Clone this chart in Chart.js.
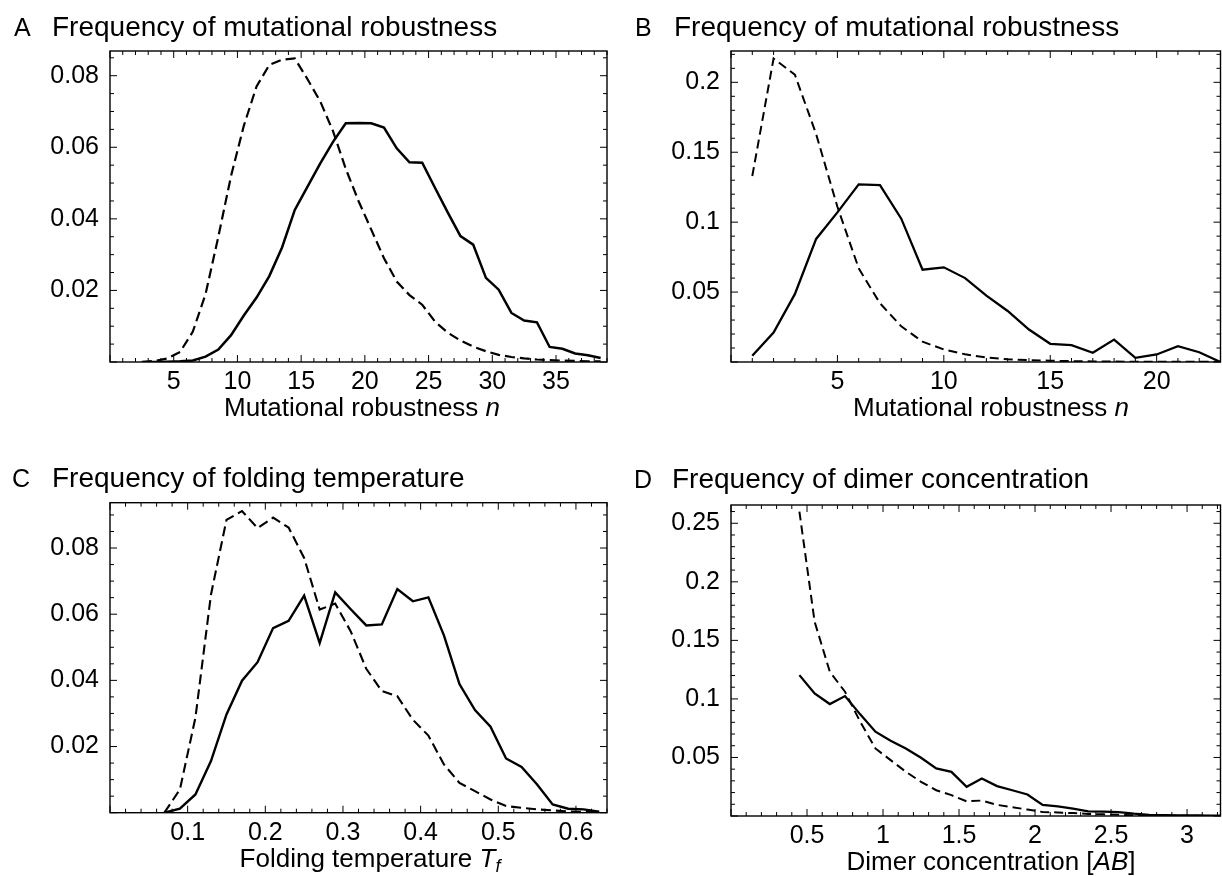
<!DOCTYPE html>
<html>
<head>
<meta charset="utf-8">
<title>Frequency distributions</title>
<script src="https://cdn.jsdelivr.net/npm/chart.js@4.4.1/dist/chart.umd.min.js"></script>
<style>
  body { margin: 0; background: #fff; }
  #page { position: relative; width: 1222px; height: 876px; }
  #page canvas { position: absolute; }
</style>
</head>
<body>
<div id="page">
  <canvas id="chartA" width="611" height="438" style="left:0;top:0"></canvas>
  <canvas id="chartB" width="611" height="438" style="left:611px;top:0"></canvas>
  <canvas id="chartC" width="611" height="438" style="left:0;top:438px"></canvas>
  <canvas id="chartD" width="611" height="438" style="left:611px;top:438px"></canvas>
</div>
<script>
const FONT = '"Liberation Sans", Arial, Helvetica, sans-serif';

// A - mutational robustness
const nA = [2.5, 3.5, 4.5, 5.5, 6.5, 7.5, 8.5, 9.5, 10.5, 11.5, 12.5, 13.5, 14.5, 15.5, 16.5, 17.5, 18.5, 19.5, 20.5, 21.5,
  22.5, 23.5, 24.5, 25.5, 26.5, 27.5, 28.5, 29.5, 30.5, 31.5, 32.5, 33.5, 34.5, 35.5, 36.5, 37.5, 38.5];
const solidA = [0, 0, 0.0001, 0.0002, 0.0004, 0.0015, 0.0035, 0.0075, 0.013, 0.018, 0.024, 0.032, 0.0425, 0.049, 0.0555,
  0.0615, 0.0667, 0.0668, 0.0667, 0.0655, 0.0597, 0.0558, 0.0557, 0.0487, 0.0418, 0.0352, 0.0328, 0.0235, 0.0202, 0.0137,
  0.0116, 0.0111, 0.0042, 0.0037, 0.0024, 0.0019, 0.0011];
const dashedA = [0, 0.0003, 0.001, 0.0028, 0.0085, 0.019, 0.035, 0.052, 0.066, 0.077, 0.083, 0.0845, 0.0848, 0.079, 0.0728,
  0.0645, 0.054, 0.045, 0.037, 0.029, 0.0225, 0.0187, 0.016, 0.0113, 0.0082, 0.006, 0.0043, 0.003, 0.002, 0.0014,
  0.001, 0.0007, 0.0005, 0.0004, 0.0003, 0.0002, 0.0002];
const xTicksA = [5, 10, 15, 20, 25, 30, 35];
const yTicksA = [0.02, 0.04, 0.06, 0.08];

// B - mutational robustness
const nB = [1, 2, 3, 4, 5, 6, 7, 8, 9, 10, 11, 12, 13, 14, 15, 16, 17, 18, 19, 20, 21, 22, 23];
const solidB = [0.0045, 0.021, 0.0485, 0.088, 0.107, 0.127, 0.1265, 0.1025, 0.066, 0.0677, 0.060, 0.0475, 0.0365, 0.0232,
  0.013, 0.012, 0.0066, 0.016, 0.003, 0.0054, 0.0113, 0.007, 0];
const dashedB = [0.133, 0.217, 0.2055, 0.163, 0.111, 0.067, 0.042, 0.0255, 0.0145, 0.009, 0.0055, 0.0032, 0.002, 0.0013,
  0.0009, 0.0006, 0.0004, 0.0003, 0.0002, 0.0002, 0.0001, 0.0001, 0.0001];
const xTicksB = [5, 10, 15, 20];
const yTicksB = [0.05, 0.1, 0.15, 0.2];

// C - folding temperature
const tC = [0.07, 0.09, 0.11, 0.13, 0.15, 0.17, 0.19, 0.21, 0.23, 0.25, 0.27, 0.29, 0.31, 0.33, 0.35, 0.37, 0.39, 0.41,
  0.43, 0.45, 0.47, 0.49, 0.51, 0.53, 0.55, 0.57, 0.59, 0.61, 0.63];
const solidC = [0, 0.0012, 0.0055, 0.0156, 0.0297, 0.0399, 0.0455, 0.0558, 0.058, 0.0656, 0.0513, 0.0666, 0.0615, 0.0566,
  0.0569, 0.0676, 0.0639, 0.0651, 0.0536, 0.0389, 0.031, 0.026, 0.0164, 0.0138, 0.0085, 0.0025, 0.0012, 0.001, 0.0003];
const dashedC = [0, 0.007, 0.0287, 0.0659, 0.0885, 0.0912, 0.086, 0.0892, 0.0862, 0.077, 0.0614, 0.0632, 0.0548, 0.0435,
  0.0368, 0.0352, 0.0281, 0.0233, 0.0146, 0.009, 0.0065, 0.004, 0.002, 0.0015, 0.001, 0.0007, 0.0004, 0.0002, 0.0001];
const xTicksC = [0.1, 0.2, 0.3, 0.4, 0.5, 0.6];
const yTicksC = [0.02, 0.04, 0.06, 0.08];

// D - dimer concentration
const abD = [0.45, 0.55, 0.65, 0.75, 0.85, 0.95, 1.05, 1.15, 1.25, 1.35, 1.45, 1.55, 1.65, 1.75, 1.85, 1.95, 2.05, 2.15,
  2.25, 2.35, 2.45, 2.55, 2.65, 2.75, 2.85, 2.95, 3.05, 3.15, 3.25];
const solidD = [0.1203, 0.1047, 0.0956, 0.1024, 0.0868, 0.072, 0.0643, 0.0577, 0.0497, 0.0406, 0.0377, 0.025, 0.032, 0.0255,
  0.022, 0.0184, 0.0094, 0.0083, 0.0063, 0.004, 0.0038, 0.0033, 0.002, 0.001, 0.0008, 0.0006, 0.0005, 0.0004, 0.0003];
const dashedD = [0.26, 0.166, 0.1232, 0.1061, 0.0805, 0.0577, 0.0477, 0.0378, 0.0292, 0.022, 0.0178, 0.0125, 0.0132, 0.0095,
  0.0075, 0.0055, 0.0034, 0.003, 0.0025, 0.0018, 0.0014, 0.0011, 0.0007, 0.0004, 0.0003, 0.0002, 0.0002, 0.0001, 0.0001];
const xTicksD = [0.5, 1, 1.5, 2, 2.5, 3];
const yTicksD = [0.05, 0.1, 0.15, 0.2, 0.25];

// frame, titles and axis label for each panel (looked up by canvas id)
const panels = {
  chartA: { letter: 'A', title: 'Frequency of mutational robustness', letterX: 14, titleX: 52, titleY: 36,
    label: [{ text: 'Mutational robustness ' }, { text: 'n', italic: true }], labelX: 362,
    xMinor: 1, xMajor: 5, yMinor: 0.005, yMajor: 0.02 },
  chartB: { letter: 'B', title: 'Frequency of mutational robustness', letterX: 24, titleX: 63, titleY: 36,
    label: [{ text: 'Mutational robustness ' }, { text: 'n', italic: true }], labelX: 380,
    xMinor: 1, xMajor: 5, yMinor: 0.01, yMajor: 0.05 },
  chartC: { letter: 'C', title: 'Frequency of folding temperature', letterX: 12, titleX: 52, titleY: 48.5,
    label: [{ text: 'Folding temperature ' }, { text: 'T', italic: true }, { text: 'f', italic: true, sub: true }], labelX: 370,
    xMinor: 0.02, xMajor: 0.1, yMinor: 0.005, yMajor: 0.02 },
  chartD: { letter: 'D', title: 'Frequency of dimer concentration', letterX: 23, titleX: 61, titleY: 50,
    label: [{ text: 'Dimer concentration [' }, { text: 'AB', italic: true }, { text: ']' }], labelX: 380,
    xMinor: 0.1, xMajor: 0.5, yMinor: 0.01, yMajor: 0.05 }
};

function tickMarks(ctx, scale, minor, major, a, horizontal) {
  const first = Math.ceil(scale.min / minor - 1e-9);
  for (let k = first; k * minor <= scale.max + 1e-9; k++) {
    const v = k * minor;
    const isMajor = Math.abs(v / major - Math.round(v / major)) < 1e-6;
    const len = isMajor ? 7 : 4;
    const p = scale.getPixelForValue(v);
    ctx.beginPath();
    if (horizontal) {
      ctx.moveTo(p, a.bottom); ctx.lineTo(p, a.bottom - len);
      ctx.moveTo(p, a.top); ctx.lineTo(p, a.top + len);
    } else {
      ctx.moveTo(a.left, p); ctx.lineTo(a.left + len, p);
      ctx.moveTo(a.right, p); ctx.lineTo(a.right - len, p);
    }
    ctx.stroke();
  }
}

function drawLabel(ctx, parts, cx, y) {
  const fontFor = part => (part.italic ? 'italic ' : '') + (part.sub ? '18px ' : '26px ') + FONT;
  let total = 0;
  for (const part of parts) { ctx.font = fontFor(part); total += ctx.measureText(part.text).width; }
  let x = cx - total / 2;
  for (const part of parts) {
    ctx.font = fontFor(part);
    ctx.fillText(part.text, x, y + (part.sub ? 5 : 0));
    x += ctx.measureText(part.text).width;
  }
}

const panelFrame = {
  id: 'panelFrame',
  afterDatasetsDraw(chart) {
    const p = panels[chart.canvas.id];
    const { ctx, chartArea: a, scales: { x, y } } = chart;
    ctx.save();
    ctx.strokeStyle = '#000';
    ctx.lineWidth = 1;
    tickMarks(ctx, x, p.xMinor, p.xMajor, a, true);
    tickMarks(ctx, y, p.yMinor, p.yMajor, a, false);
    ctx.lineWidth = 1.4;
    ctx.strokeRect(a.left, a.top, a.right - a.left, a.bottom - a.top);

    ctx.fillStyle = '#000';
    ctx.textAlign = 'left';
    ctx.textBaseline = 'alphabetic';
    ctx.font = '25px ' + FONT;
    ctx.fillText(p.letter, p.letterX, p.titleY);
    ctx.font = '28px ' + FONT;
    ctx.fillText(p.title, p.titleX, p.titleY);
    drawLabel(ctx, p.label, p.labelX, a.bottom + 54);
    ctx.restore();
  }
};

function makeChart(id, xs, solid, dashed, cfg) {
  const tickFont = { family: FONT, size: 25 };
  return new Chart(document.getElementById(id), {
    type: 'line',
    data: {
      datasets: [
        { data: xs.map((v, i) => ({ x: v, y: solid[i] })), borderColor: '#000', borderWidth: cfg.solidWidth,
          pointRadius: 0, tension: 0, fill: false },
        { data: xs.map((v, i) => ({ x: v, y: dashed[i] })), borderColor: '#000', borderWidth: cfg.dashWidth,
          borderDash: cfg.dash, pointRadius: 0, tension: 0, fill: false }
      ]
    },
    options: {
      responsive: false,
      animation: false,
      events: [],
      layout: { padding: cfg.padding },
      plugins: { legend: { display: false }, tooltip: { enabled: false } },
      scales: {
        x: {
          type: 'linear', min: cfg.xMin, max: cfg.xMax,
          grid: { display: false, drawTicks: false }, border: { display: false },
          afterBuildTicks: s => { s.ticks = cfg.xTicks.map(v => ({ value: v })); },
          afterFit: s => { s.height = cfg.xAxisHeight; },
          ticks: { autoSkip: false, maxRotation: 0, padding: 5, color: '#000', font: tickFont, callback: v => String(v) }
        },
        y: {
          type: 'linear', min: 0, max: cfg.yMax,
          grid: { display: false, drawTicks: false }, border: { display: false },
          afterBuildTicks: s => { s.ticks = cfg.yTicks.map(v => ({ value: v })); },
          afterFit: s => { s.width = cfg.yAxisWidth; },
          ticks: { autoSkip: false, padding: 11, color: '#000', font: tickFont, callback: v => String(v) }
        }
      }
    },
    plugins: [panelFrame]
  });
}

makeChart('chartA', nA, solidA, dashedA, {
  xMin: 0, xMax: 39, yMax: 0.0869, xTicks: xTicksA, yTicks: yTicksA,
  padding: { left: 0, top: 51, right: 4, bottom: 0 }, yAxisWidth: 110, xAxisHeight: 76,
  solidWidth: 2.5, dashWidth: 2.2, dash: [10, 5]
});
makeChart('chartB', nB, solidB, dashedB, {
  xMin: 0, xMax: 23, yMax: 0.2224, xTicks: xTicksB, yTicks: yTicksB,
  padding: { left: 0, top: 51, right: 1.5, bottom: 0 }, yAxisWidth: 120, xAxisHeight: 76,
  solidWidth: 2.3, dashWidth: 2, dash: [9, 5]
});
makeChart('chartC', tC, solidC, dashedC, {
  xMin: 0, xMax: 0.64, yMax: 0.0937, xTicks: xTicksC, yTicks: yTicksC,
  padding: { left: 0, top: 64.7, right: 4, bottom: 0 }, yAxisWidth: 110, xAxisHeight: 63.3,
  solidWidth: 2.4, dashWidth: 2.1, dash: [10, 5]
});
makeChart('chartD', abD, solidD, dashedD, {
  xMin: 0, xMax: 3.22, yMax: 0.2656, xTicks: xTicksD, yTicks: yTicksD,
  padding: { left: 0, top: 67, right: 1.5, bottom: 0 }, yAxisWidth: 120, xAxisHeight: 60,
  solidWidth: 2.3, dashWidth: 2, dash: [9, 5]
});
</script>
</body>
</html>
